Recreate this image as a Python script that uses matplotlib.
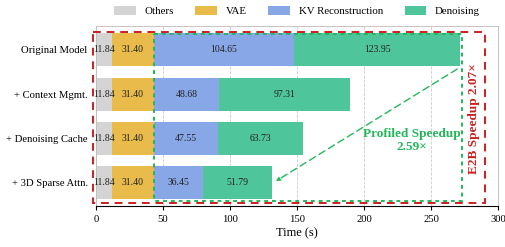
import numpy as np
import matplotlib.pyplot as plt
from matplotlib.patches import Rectangle

plt.rcParams['font.family'] = ['Liberation Serif', 'DejaVu Serif']

configs = ["Original Model", "+ Context Mgmt.", "+ Denoising Cache", "+ 3D Sparse Attn."]
others = [11.84, 11.84, 11.84, 11.84]
vae = [31.40, 31.40, 31.40, 31.40]
kv_recon = [104.65, 48.68, 47.55, 36.45]
denoising = [123.95, 97.31, 63.73, 51.79]

parts = [("Others", others, "#d4d4d4"),
         ("VAE", vae, "#e8bb4b"),
         ("KV Reconstruction", kv_recon, "#88a7e6"),
         ("Denoising", denoising, "#4ec59b")]

fig = plt.figure(figsize=(5.05, 2.47), dpi=100)
ax = fig.add_axes([96 / 505, 1 - 206 / 247, 402 / 505, 180 / 247])

y = np.arange(len(configs))
left = np.zeros(len(configs))
for name, vals, col in parts:
    vals = np.array(vals)
    ax.barh(y, vals, left=left, height=0.75, color=col, label=name, zorder=2)
    for i, v in enumerate(vals):
        ax.text(left[i] + v / 2, y[i], f"{v:.2f}", ha="center", va="center",
                fontsize=7, color="#222222", zorder=3)
    left += vals

total0 = left[0]
base = others[0] + vae[0]

ax.set_xlim(0, 300)
ax.set_ylim(3.53, -0.54)
ax.set_yticks(y)
ax.set_yticklabels(configs, fontsize=7.7)
ax.tick_params(axis="y", length=0, pad=6)
ax.set_xticks(range(0, 301, 50))
ax.tick_params(axis="x", labelsize=7.7, length=3)
ax.set_xlabel("Time (s)", fontsize=9, labelpad=2)
ax.grid(axis="x", color="#cccccc", linestyle="--", linewidth=0.6, zorder=0)
for s in ["top", "right", "left"]:
    ax.spines[s].set_color("#bbbbbb")
    ax.spines[s].set_linewidth(0.6)

# speedup boxes
ax.add_patch(Rectangle((-2, -0.41), 292, 3.88, fill=False, edgecolor="#cc1f1f",
                       linestyle=(0, (4, 3)), linewidth=1.4, clip_on=False, zorder=4))
ax.add_patch(Rectangle((base, -0.37), total0 + 1.2 - base, 3.79, fill=False, edgecolor="#22b85a",
                       linestyle=(0, (2, 2)), linewidth=1.4, clip_on=False, zorder=4))
ax.annotate("", xy=(left[3] + 1, 3.0), xytext=(total0 - 0.5, 0.4),
            arrowprops=dict(arrowstyle="-|>", color="#22b85a", lw=1.0,
                            linestyle=(0, (5, 3)), mutation_scale=6), zorder=5)
ax.text(236, 2.05, "Profiled Speedup\n2.59\u00d7", ha="center", va="center",
        color="#22b85a", fontsize=9.5, fontweight="bold", linespacing=1.15, zorder=5)
ax.text(282, 1.55, "E2B Speedup 2.07\u00d7", ha="center", va="center", rotation=90,
        color="#cc1f1f", fontsize=9.5, fontweight="bold", zorder=5)

ax.legend(loc="lower center", bbox_to_anchor=(0.5, 1.03), ncol=4, frameon=False,
          fontsize=7.8, handlelength=2.0, handleheight=0.9, columnspacing=2.0,
          borderaxespad=0)

fig.savefig("out.png", dpi=100)
